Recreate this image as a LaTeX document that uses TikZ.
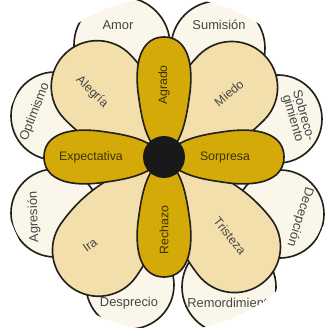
\documentclass[tikz,border=0pt]{standalone}
\usepackage{fontspec}
\setmainfont{Liberation Sans}
\definecolor{petalgold}{RGB}{212,170,8}
\definecolor{petalbeige}{RGB}{243,223,172}
\definecolor{petalcream}{RGB}{250,246,234}
\definecolor{edgedark}{RGB}{35,32,28}
\definecolor{textgold}{RGB}{60,50,5}
\definecolor{textgray}{RGB}{70,70,70}
\tikzset{petalA/.style={draw=edgedark,line width=1.4pt,fill=petalgold}}
\tikzset{petalB/.style={draw=edgedark,line width=1.4pt,fill=petalbeige}}
\tikzset{petalC/.style={fill=petalcream}}
\tikzset{petalCline/.style={draw=edgedark,line width=1.4pt}}
\tikzset{labelA/.style={text=textgold,font=\fontsize{10.5}{12}\selectfont}}
\tikzset{labelB/.style={text=textgray,font=\fontsize{10.5}{12}\selectfont}}
\tikzset{labelC/.style={text=textgray,font=\fontsize{11}{9.5}\selectfont,align=center}}

\begin{document}
\begin{tikzpicture}[x=0.03cm,y=0.03cm]

\useasboundingbox (-164,-171) rectangle (161,157);

\pgfmathsetmacro{\L}{120}

\pgfmathsetmacro{\dT}{97}
\pgfmathsetmacro{\dB}{114}
\pgfmathsetmacro{\rT}{46}

\begin{scope}
\clip (4,-7) circle (167);

    %   外側の花びら
    \coordinate (amor) at (-42,112);
    \coordinate (sumision) at (54,109);
    \coordinate (sobreco) at (114,38);
    \coordinate (decepcion) at (116,-57);
    \coordinate (remord) at (65,-130);
    \coordinate (desprecio) at (-34,-128);
    \coordinate (agresion) at (-109,-56);
    \coordinate (optimismo) at (-109,41);

    \path[petalC] (amor) circle (48) (sumision) circle (47)
        (sobreco) circle (44) (decepcion) circle (44)
        (remord) circle (47) (desprecio) circle (44)
        (agresion) circle (44) (optimismo) circle (44);
    \path[petalCline] (amor) circle (48) (sumision) circle (47)
        (sobreco) circle (44) (decepcion) circle (44)
        (remord) circle (47) (desprecio) circle (44)
        (agresion) circle (44) (optimismo) circle (44);

    \node[labelC] (tamor) at (-46,132) {Amor};
    \node[labelC] (tsumision) at (55,132) {Sumisión};
    \node[labelC,rotate=-74] (tsobreco) at (134,40) {Sobreco-\\gimiento};
    \node[labelC,rotate=-108] (tdecepcion) at (136,-60) {Decepción};
    \node[labelC] (tremord) at (67,-146) {Remordimiento};
    \node[labelC] (tdesprecio) at (-35,-146) {Desprecio};
    \node[labelC,rotate=92] (tagresion) at (-130,-60) {Agresión};
    \node[labelC,rotate=69] (toptimismo) at (-129,45) {Optimismo};

    %   斜めの花びら
    \draw[petalB,rotate=133.5]
        (0,0)..controls({0.3*\dT},{0.6*\rT}) and ({\dT-\rT},\rT)..(\dT,\rT)
        arc[start angle=90,end angle=-90,radius=\rT]
        ..controls({\dT-\rT},-\rT) and ({0.3*\dT},{-0.6*\rT})..cycle;
    \draw[petalB,rotate=45.8]
        (0,0)..controls({0.3*\dT},{0.6*\rT}) and ({\dT-\rT},\rT)..(\dT,\rT)
        arc[start angle=90,end angle=-90,radius=\rT]
        ..controls({\dT-\rT},-\rT) and ({0.3*\dT},{-0.6*\rT})..cycle;
    \draw[petalB,rotate=234.9]
        (0,0)..controls({0.3*\dB},{0.6*\rT}) and ({\dB-\rT},\rT)..(\dB,\rT)
        arc[start angle=90,end angle=-90,radius=\rT]
        ..controls({\dB-\rT},-\rT) and ({0.3*\dB},{-0.6*\rT})..cycle;
    \draw[petalB,rotate=-51.8]
        (0,0)..controls({0.3*\dB},{0.6*\rT}) and ({\dB-\rT},\rT)..(\dB,\rT)
        arc[start angle=90,end angle=-90,radius=\rT]
        ..controls({\dB-\rT},-\rT) and ({0.3*\dB},{-0.6*\rT})..cycle;

    \node[labelB,rotate=-44] (talegria) at (-72,65) {Alegría};
    \node[labelB,rotate=40] (tmiedo) at (65,64) {Miedo};
    \node[labelB,rotate=36] (tira) at (-74,-88) {Ira};
    \node[labelB,rotate=-51] (ttristeza) at (66,-79) {Tristeza};

    %   十字の花びら
    \draw[petalA,rotate=0]
        (0,0)..controls(14,18) and (35,22)..(65,26)
        ..controls(100,30) and (\L,20)..(\L,0)
        ..controls(\L,-20) and (100,-30)..(65,-26)
        ..controls(35,-22) and (14,-18)..cycle;
    \draw[petalA,rotate=90]
        (0,0)..controls(14,18) and (35,22)..(65,26)
        ..controls(100,30) and (\L,20)..(\L,0)
        ..controls(\L,-20) and (100,-30)..(65,-26)
        ..controls(35,-22) and (14,-18)..cycle;
    \draw[petalA,rotate=180]
        (0,0)..controls(14,18) and (35,22)..(65,26)
        ..controls(100,30) and (\L,20)..(\L,0)
        ..controls(\L,-20) and (100,-30)..(65,-26)
        ..controls(35,-22) and (14,-18)..cycle;
    \draw[petalA,rotate=270]
        (0,0)..controls(14,18) and (35,22)..(65,26)
        ..controls(100,30) and (\L,20)..(\L,0)
        ..controls(\L,-20) and (100,-30)..(65,-26)
        ..controls(35,-22) and (14,-18)..cycle;

    \node[labelA,rotate=90] (tagrado) at (0,72) {Agrado};
    \node[labelA,rotate=90] (trechazo) at (0,-73) {Rechazo};
    \node[labelA] (texpect) at (-73,0) {Expectativa};
    \node[labelA] (tsorpresa) at (61,0) {Sorpresa};

    %   中央の円
    \fill[black!90] (0,0) circle (21);

\end{scope}

\end{tikzpicture}
\end{document}
